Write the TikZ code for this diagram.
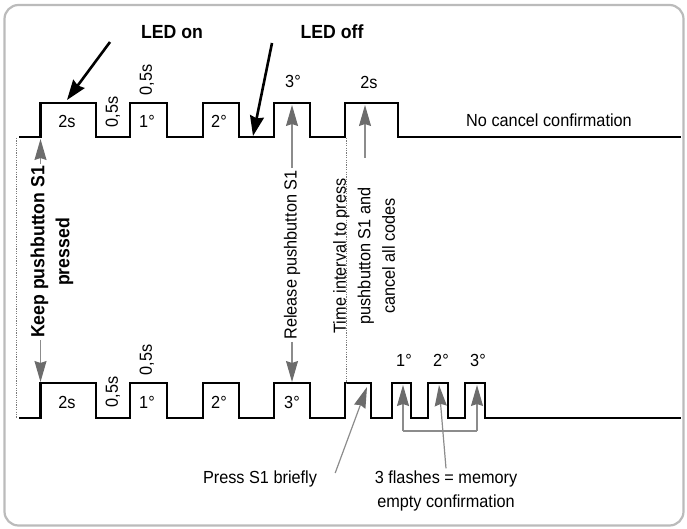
\documentclass[tikz,border=0pt]{standalone}
\usepackage{fontspec}
\setmainfont{Liberation Sans}[FakeStretch=0.93]
\usetikzlibrary{arrows.meta}
\definecolor{framegray}{HTML}{BBBBBB}
\definecolor{linegray}{HTML}{8C8C8C}
\definecolor{tipgray}{HTML}{6C6C6C}
\definecolor{dotgray}{HTML}{7A7A7A}

\begin{document}
\begin{tikzpicture}[
    x=1pt, y=-1pt,
    every node/.style={font=\fontsize{17.5}{24.5}\selectfont, inner sep=2pt, align=center},
    wave/.style={line width=2.6pt},
    frame/.style={draw=framegray, line width=2.2pt, rounded corners=14pt},
    guide/.style={dotgray, line width=0.9pt, dash pattern=on 1.2pt off 1.2pt},
    garw/.style={-{Stealth[length=21pt, width=12pt, inset=2pt, color=tipgray]},
        linegray, line width=1.2pt},
    gline/.style={linegray, line width=1.2pt},
    barw/.style={-{Stealth[length=20pt, width=14pt, inset=2pt]}, line width=2.6pt},
    vlbl/.style={rotate=90},
    head/.style={font=\fontsize{19}{25}\selectfont\bfseries},
]
\useasboundingbox (0,0) rectangle (687,529);

% === Frame ===
\draw[frame] (4.5,5) rectangle (683.5,525.5);

% === Upper waveform (no cancel) ===
\draw[wave] (19,137) -| (40.5,103) -| (96,137) -| (130,103) -| (167,137)
    -| (203,103) -| (239,137) -| (274,103) -| (310,137) -| (345,103)
    -| (398,137) -- (681,137);

% === Lower waveform (memory cancelled) ===
\draw[wave] (19,418) -| (40.5,383) -| (96,418) -| (130,383) -| (167,418)
    -| (203,383) -| (239,418) -| (274,383) -| (310,418) -| (345,383)
    -| (371,418) -| (392,383) -| (411,418) -| (428,383) -| (448,418)
    -| (465,383) -| (485,418) -- (681,418);

% Dotted guides
\draw[guide] (16,138) -- (16,418);
\draw[guide] (346,138) -- (346,383);

% === Labels, upper row ===
\node[head] (ledon) at (172,32) {LED on};
\node[head] (ledoff) at (332,32) {LED off};
\node (up2s) at (67,121) {2s};
\node[vlbl] (upgapa) at (113,112) {0,5s};
\node[vlbl] (upgapb) at (147,80) {0,5s};
\node (upone) at (147,121) {1°};
\node (uptwo) at (219,121) {2°};
\node (upthree) at (293,81) {3°};
\node (upwait) at (369,82) {2s};
\node (nocancel) at (549,120) {No cancel confirmation};

% === Labels, lower row ===
\node (lo2s) at (67,402) {2s};
\node[vlbl] (logapa) at (113,392) {0,5s};
\node[vlbl] (logapb) at (147,360) {0,5s};
\node (loone) at (147,402) {1°};
\node (lotwo) at (219,402) {2°};
\node (lothree) at (292,402) {3°};
\node (flone) at (404,360) {1°};
\node (fltwo) at (441,360) {2°};
\node (flthree) at (478,360) {3°};
\node (press) at (260,479) {Press S1 briefly};
\node (flashes) at (446,491) {3 flashes = memory\\empty confirmation};

% === Vertical texts ===
\node[vlbl, head] (keep) at (52,252) {Keep pushbutton S1\\pressed};
\node[vlbl] (release) at (292,255) {Release pushbutton S1};
\node[vlbl] (interval) at (364,256) {Time interval to press\\pushbutton S1 and\\cancel all codes};

% === Arrow ends ===
\coordinate (keepup) at (40.5,139);
\coordinate (keepdn) at (40.5,382);
\coordinate (relup) at (292,105);
\coordinate (reldn) at (292,382);
\coordinate (waittail) at (365,158);
\coordinate (waittip) at (365,105);
\coordinate (presstip) at (367,387);
\coordinate (fla) at (403,385);
\coordinate (flb) at (439,385);
\coordinate (flc) at (477,385);
\coordinate (brl) at (403,431);
\coordinate (brr) at (477,431);
\coordinate (ontail) at (110,42);
\coordinate (ontip) at (67,100);
\coordinate (offtail) at (272,43);
\coordinate (offtip) at (253,136);

% Gray arrows
\draw[garw] (keep.east -| keepup) -- (keepup);
\draw[garw] (keep.west -| keepdn) -- (keepdn);
\draw[garw] (release.east) -- (relup);
\draw[garw] (release.west) -- (reldn);
\draw[garw] (waittail) -- (waittip);
\draw[garw] ([xshift=16pt, yshift=6pt]press.east) -- (presstip);
\draw[gline] (brl) -- (brr);
\draw[garw] (brl) -- (fla);
\draw[garw] (brr) -- (flc);
\draw[garw] (flashes.north) -- (flb);

% Black arrows
\draw[barw] (ontail) -- (ontip);
\draw[barw] (offtail) -- (offtip);

\end{tikzpicture}
\end{document}
